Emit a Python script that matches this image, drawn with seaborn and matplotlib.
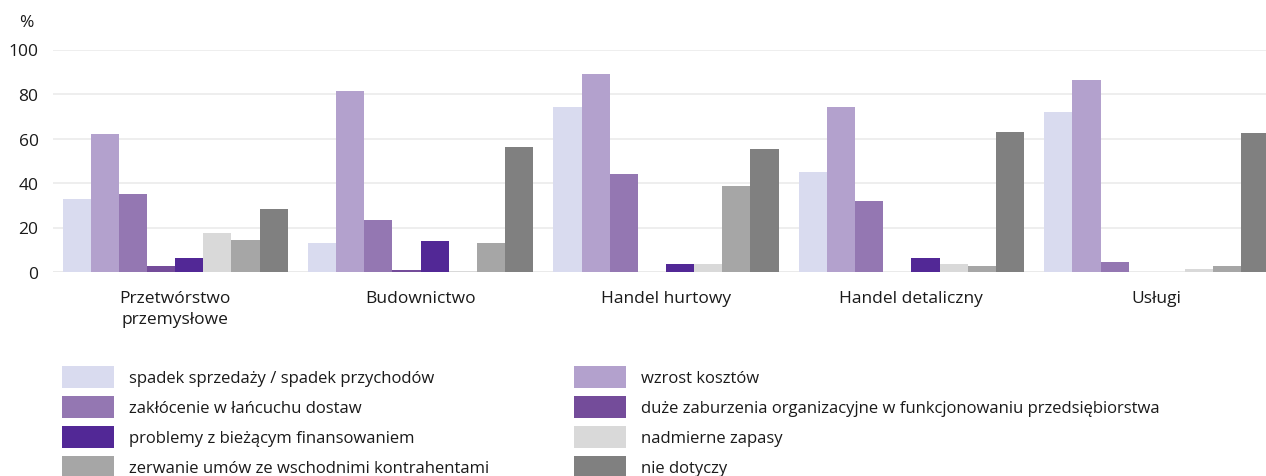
import matplotlib
matplotlib.use("Agg")
import matplotlib.pyplot as plt
import matplotlib.patches as mpatches
import seaborn as sns
import pandas as pd
from matplotlib import font_manager

categories = ["Przetwórstwo\nprzemysłowe", "Budownictwo", "Handel hurtowy", "Handel detaliczny", "Usługi"]
series_names = [
    "spadek sprzedaży / spadek przychodów",
    "wzrost kosztów",
    "zakłócenie w łańcuchu dostaw",
    "duże zaburzenia organizacyjne w funkcjonowaniu przedsiębiorstwa",
    "problemy z bieżącym finansowaniem",
    "nadmierne zapasy",
    "zerwanie umów ze wschodnimi kontrahentami",
    "nie dotyczy",
]
spadek = [33.0, 13.0, 74.3, 44.8, 71.8]
wzrost = [62.2, 81.3, 88.8, 74.0, 86.3]
zaklocenie = [35.1, 23.2, 44.2, 31.8, 4.4]
zaburzenia = [2.9, 0.7, 0.0, 0.0, 0.0]
finansowanie = [6.3, 14.0, 3.4, 6.2, 0.0]
zapasy = [17.4, 0.5, 3.4, 3.4, 1.3]
zerwanie = [14.4, 13.0, 38.7, 2.5, 2.7]
nie_dotyczy = [28.5, 56.3, 55.3, 62.8, 62.4]
colors = ["#d9dbef", "#b3a1cd", "#9477b2", "#744c9a", "#522896", "#d9d9d9", "#a6a6a6", "#808080"]
yticks = [0, 20, 40, 60, 80, 100]

all_series = [spadek, wzrost, zaklocenie, zaburzenia, finansowanie, zapasy, zerwanie, nie_dotyczy]
rows = []
for name, vals in zip(series_names, all_series):
    for cat, v in zip(categories, vals):
        rows.append({"kategoria": cat, "seria": name, "wartosc": v})
df = pd.DataFrame(rows)

sns.set_theme(style="white")
names = {f.name for f in font_manager.fontManager.ttflist}
fam = [f for f in ["Open Sans", "DejaVu Sans"] if f in names]
plt.rcParams["font.family"] = fam

fig = plt.figure(figsize=(12.66, 4.77), dpi=100)
ax = fig.add_axes([52.5 / 1266, (477 - 273) / 477, 1227 / 1266, 222.5 / 477])

sns.barplot(data=df, x="kategoria", y="wartosc", hue="seria", order=categories,
            hue_order=series_names, palette=colors, width=0.917, dodge=True,
            saturation=1, ax=ax, legend=False, linewidth=0)

ax.set_xlim(-0.5, 4.5)
ax.set_ylim(0, 100)
ax.set_yticks(yticks)
ax.set_yticklabels([str(t) for t in yticks], fontsize=12.5, color="#1a1a1a")
ax.tick_params(axis="x", labelsize=12.5, colors="#1a1a1a", length=0, pad=13)
ax.tick_params(axis="y", length=0, pad=10)
for lbl in ax.get_xticklabels():
    lbl.set_linespacing(1.4)
ax.set_xlabel("")
ax.set_ylabel("")
for s in ax.spines.values():
    s.set_visible(False)
ax.yaxis.grid(True, color="#ebebeb", linewidth=1.2)
ax.set_axisbelow(True)
ax.axhline(0, color="#e6e6e6", linewidth=1.2, zorder=0.5)
fig.text(19 / 1266, 1 - 23 / 477, "%", fontsize=12.5, color="#1a1a1a", va="center", ha="left")

handles = [mpatches.Patch(facecolor=c, edgecolor="none", label=n) for c, n in zip(colors, series_names)]
leg_kw = dict(frameon=False, fontsize=12, handlelength=3.1, handleheight=1.65,
              handletextpad=0.9, labelspacing=0.48, borderaxespad=0, borderpad=0,
              loc="upper left")
leg1 = fig.legend(handles=handles[0::2], bbox_to_anchor=(62 / 1266, 1 - 367 / 477), **leg_kw)
leg2 = fig.legend(handles=handles[1::2], bbox_to_anchor=(574 / 1266, 1 - 367 / 477), **leg_kw)
for lg in (leg1, leg2):
    for t in lg.get_texts():
        t.set_color("#1a1a1a")

fig.savefig("out.png", dpi=100)
